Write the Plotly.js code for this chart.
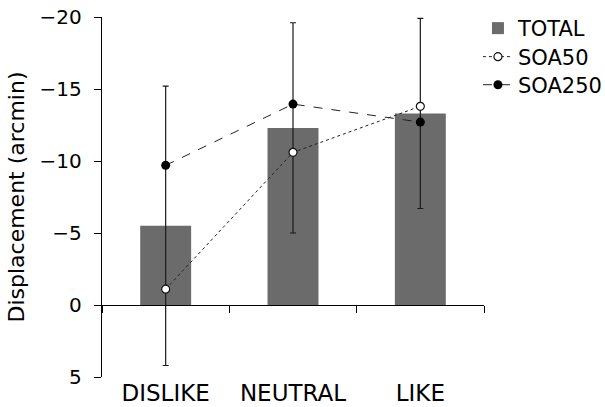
<!DOCTYPE html>
<html>
<head>
<meta charset="utf-8">
<script src="https://cdn.plot.ly/plotly-3.0.1.min.js"></script>
<style>html,body{margin:0;padding:0;background:#fff;}#chart{width:605px;height:407px;}</style>
</head>
<body>
<div id="chart"></div>
<script>
const categories = ["DISLIKE", "NEUTRAL", "LIKE"];
const totalValues = [-5.5, -12.3, -13.3];
const totalErrors = [9.7, 7.3, 6.6];
const soa50Values = [-1.1, -10.6, -13.8];
const soa250Values = [-9.7, -13.95, -12.7];
const yTickValues = [5, 0, -5, -10, -15, -20];
const boundaryTicks = [-0.5, 0.5, 1.5, 2.5];

const FONT = "DejaVu Sans, sans-serif";

const traces = [
  {
    type: "bar", name: "TOTAL", x: categories, y: totalValues, width: 0.4, legend: "legend",
    marker: {color: "#6b6b6b"},
    error_y: {type: "data", array: totalErrors, visible: true, color: "#1a1a1a", thickness: 1.2, width: 3}
  },
  {
    type: "scatter", mode: "lines+markers", name: "SOA50", x: categories, y: soa50Values, legend: "legend2",
    line: {color: "#222", width: 1, dash: "dot"},
    marker: {symbol: "circle", size: 8, color: "#fff", line: {color: "#111", width: 1.2}}
  },
  {
    type: "scatter", mode: "lines+markers", name: "SOA250", x: categories, y: soa250Values, legend: "legend3",
    line: {color: "#222", width: 1, dash: "dash"},
    marker: {symbol: "circle", size: 9, color: "#000"}
  },
  {type: "scatter", x: [], y: [], xaxis: "x2", showlegend: false, hoverinfo: "skip"}
];

const legendBase = {xref: "container", yref: "container", xanchor: "left", yanchor: "middle",
  font: {size: 21, family: FONT}, itemwidth: 30, bgcolor: "rgba(0,0,0,0)", borderwidth: 0};

const layout = {
  width: 605, height: 407,
  margin: {l: 102, r: 121, t: 17, b: 30, autoexpand: false},
  paper_bgcolor: "#fff", plot_bgcolor: "#fff",
  font: {family: FONT, size: 20, color: "#000"},
  showlegend: true,
  legend: Object.assign({}, legendBase, {x: 0.79, y: 0.930}),
  legend2: Object.assign({}, legendBase, {x: 0.79, y: 0.860}),
  legend3: Object.assign({}, legendBase, {x: 0.79, y: 0.791}),
  xaxis: {
    type: "category", range: [-0.5, 2.5], showline: false, ticks: "", showgrid: false, zeroline: false,
    tickfont: {size: 23}, fixedrange: true
  },
  xaxis2: {
    overlaying: "x", anchor: "free", position: 0.2, side: "bottom", range: [-0.5, 2.5],
    showline: true, linecolor: "#000", linewidth: 1.2, ticks: "outside", ticklen: 7, tickcolor: "#000",
    tickmode: "array", tickvals: boundaryTicks, showticklabels: false, showgrid: false, zeroline: false
  },
  yaxis: {
    range: [5, -20], tickmode: "array", tickvals: yTickValues, showline: true, linecolor: "#000", linewidth: 1.2,
    ticks: "outside", ticklen: 7, tickcolor: "#000", showgrid: false, zeroline: false,
    tickfont: {size: 20}, ticklabelstandoff: 8,
    title: {text: "Displacement (arcmin)", font: {size: 22}, standoff: 8}
  }
};

Plotly.newPlot("chart", traces, layout, {displayModeBar: false, staticPlot: true});
</script>
</body>
</html>
